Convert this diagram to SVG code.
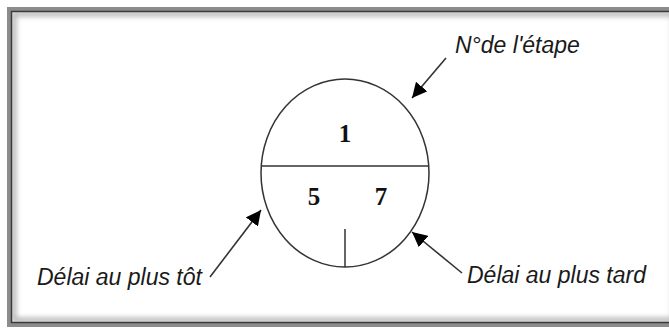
<svg xmlns="http://www.w3.org/2000/svg" width="669" height="329" viewBox="0 0 669 329">
  <defs>
    <filter id="soft" x="-5%" y="-5%" width="110%" height="110%">
      <feGaussianBlur stdDeviation="2.5"/>
    </filter>
    <clipPath id="inner"><rect x="12" y="12" width="660" height="310"/></clipPath>
    <marker id="arrow" viewBox="0 0 10 10" refX="10" refY="5" markerWidth="15" markerHeight="15" markerUnits="userSpaceOnUse" orient="auto">
      <path d="M0,0 L10,5 L0,10 Z" fill="#000"/>
    </marker>
    <style>
      .label { font-family: "Liberation Sans", Arial, sans-serif; font-style: italic; font-size: 23px; fill: #1a1a1a; }
      .num { font-family: "Liberation Serif", "Times New Roman", serif; font-weight: bold; font-size: 25px; fill: #111; text-anchor: middle; }
      .shape { fill: none; stroke: #333; stroke-width: 1.5; }
      .conn { stroke: #333; stroke-width: 1.6; fill: none; marker-end: url(#arrow); }
    </style>
  </defs>
  <rect x="0" y="0" width="669" height="329" fill="#fff"/>
  <!-- frame -->
  <g id="frame">
    <rect x="9" y="9" width="672" height="316" fill="none" stroke="#8c8c8c" stroke-width="4"/>
    <g clip-path="url(#inner)">
      <rect x="14" y="14" width="660" height="306" fill="none" stroke="#b5b5b5" stroke-width="5" filter="url(#soft)"/>
    </g>
    <rect x="11.5" y="11.5" width="672" height="311" fill="none" stroke="#3a3a3a" stroke-width="1.5"/>
  </g>
  <!-- node -->
  <g id="node">
    <ellipse class="shape" cx="345" cy="173" rx="84" ry="94"/>
    <line class="shape" x1="261.3" y1="166" x2="428.7" y2="166"/>
    <line class="shape" x1="345" y1="229" x2="345" y2="267"/>
    <text class="num" x="345" y="142">1</text>
    <text class="num" x="314" y="205">5</text>
    <text class="num" x="381" y="205">7</text>
  </g>
  <!-- labels -->
  <g id="label-step">
    <text class="label" x="455" y="53">N°de l'étape</text>
  </g>
  <g id="label-early">
    <text class="label" x="37" y="285">Délai au plus tôt</text>
  </g>
  <g id="label-late">
    <text class="label" x="467" y="283">Délai au plus tard</text>
  </g>
  <!-- connectors -->
  <g id="connectors">
    <line class="conn" x1="446" y1="58" x2="412" y2="98"/>
    <line class="conn" x1="210" y1="277" x2="261" y2="210"/>
    <line class="conn" x1="462" y1="273" x2="412" y2="232"/>
  </g>
</svg>
